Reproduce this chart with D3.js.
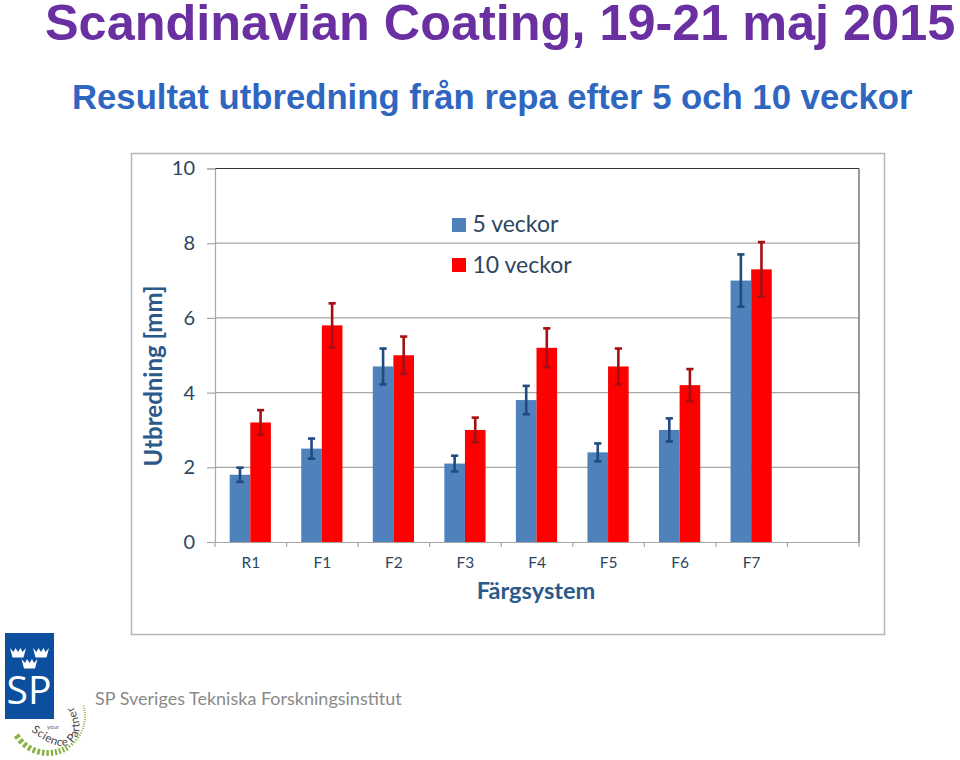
<!DOCTYPE html>
<html><head><meta charset="utf-8">
<script src="https://cdn.jsdelivr.net/npm/d3@7/dist/d3.min.js"></script>
<style>html,body{margin:0;background:#fff;}svg{display:block;}</style>
</head><body><svg id="c" width="960" height="760"></svg>
<script>
const categories = ["R1","F1","F2","F3","F4","F5","F6","F7",""];
const weeks5 = [1.8,2.5,4.7,2.1,3.8,2.4,3.0,7.0];
const weeks10 = [3.2,5.8,5.0,3.0,5.2,4.7,4.2,7.3];
const err5 = [0.19,0.27,0.48,0.21,0.38,0.24,0.31,0.70];
const err10 = [0.33,0.59,0.50,0.33,0.52,0.48,0.43,0.73];
const yTicks = [0,2,4,6,8,10];
const seriesNames = ["5 veckor","10 veckor"];
const title = "Scandinavian Coating, 19-21 maj 2015";
const subtitle = "Resultat utbredning från repa efter 5 och 10 veckor";

const BLUE="#4f81bd", RED="#ff0000", INK="#2c4660", AX="#a6a6a6";
const svg=d3.select("#c");
const AF="'Liberation Sans',Arial,sans-serif", CF="Lato,'Open Sans',sans-serif";
svg.append("text").attr("x",45).attr("y",39.5).attr("font-family",AF).attr("font-weight",700).attr("font-size",50.4).attr("fill","#6a2fa0").text(title);
svg.append("text").attr("x",72).attr("y",109).attr("font-family",AF).attr("font-weight",700).attr("font-size",34.7).attr("fill","#2f66bf").text(subtitle);
svg.append("rect").attr("x",131.5).attr("y",153.5).attr("width",753).attr("height",481).attr("fill","#fff").attr("stroke","#b5b5b5").attr("stroke-width",1.5);

const L=215,R=859,T=168.5,B=542;
const x=d3.scaleBand().domain(categories).range([L,R]);
const y=d3.scaleLinear().domain([0,10]).range([B,T]);
const barW=20.6;
const xc=i=>x(categories[i])+x.bandwidth()/2-0.5;

// gridlines
const g=svg.append("g");
g.selectAll("line.grid").data(yTicks.filter(d=>d>0&&d<10)).join("line")
 .attr("x1",L).attr("x2",R).attr("y1",d=>y(d)).attr("y2",d=>y(d)).attr("stroke",AX).attr("stroke-width",1.2);
g.append("line").attr("x1",L).attr("x2",R).attr("y1",y(10)).attr("y2",y(10)).attr("stroke","#333").attr("stroke-width",1.2);
g.append("line").attr("x1",R).attr("x2",R).attr("y1",y(10)).attr("y2",y(0)).attr("stroke","#555").attr("stroke-width",1.2);

// axes
const ya=svg.append("g").attr("transform",`translate(${L},0)`).call(d3.axisLeft(y).tickValues(yTicks).tickSize(8).tickPadding(12));
const xa=svg.append("g").attr("transform",`translate(0,${B})`).call(d3.axisBottom(x).tickSize(0).tickPadding(15));
[ya,xa].forEach(a=>{a.selectAll("path,line").attr("stroke",AX).attr("stroke-width",1.2);a.select(".domain").attr("stroke",AX);});
ya.selectAll("text").attr("font-family",CF).attr("font-size",20).attr("fill",INK);
xa.selectAll("text").attr("font-family",CF).attr("font-size",15.5).attr("fill",INK);
xa.selectAll("line.bt").data(d3.range(categories.length+1)).join("line").attr("class","bt")
 .attr("x1",i=>L+i*x.step()).attr("x2",i=>L+i*x.step()).attr("y1",0).attr("y2",5).attr("stroke",AX).attr("stroke-width",1.2);

// bars
function series(vals,errs,dx,fill,dark){
  const s=svg.append("g");
  s.selectAll("rect").data(vals).join("rect")
   .attr("x",(d,i)=>xc(i)+dx).attr("width",barW).attr("y",d=>y(d)).attr("height",d=>B-y(d)).attr("fill",fill);
  const ex=i=>xc(i)+dx+barW/2;
  s.selectAll("line.e").data(vals).join("line").attr("class","e")
   .attr("x1",(d,i)=>ex(i)).attr("x2",(d,i)=>ex(i)).attr("y1",(d,i)=>y(d+errs[i])).attr("y2",(d,i)=>y(d-errs[i]))
   .attr("stroke",dark).attr("stroke-width",2.6);
  [1,-1].forEach(sg=>{
    s.selectAll("line.c"+(sg>0?"u":"d")).data(vals).join("line").attr("class","c"+(sg>0?"u":"d"))
     .attr("x1",(d,i)=>ex(i)-3.6).attr("x2",(d,i)=>ex(i)+3.6).attr("y1",(d,i)=>y(d+sg*errs[i])).attr("y2",(d,i)=>y(d+sg*errs[i]))
     .attr("stroke",dark).attr("stroke-width",2.6);
  });
}
series(weeks5,err5,-barW,BLUE,"#1f4b7d");
series(weeks10,err10,0,RED,"#a50f14");

// legend
const lg=svg.append("g");
[BLUE,RED].forEach((c,i)=>{
  lg.append("rect").attr("x",452).attr("y",218+i*40).attr("width",14).attr("height",14).attr("fill",c);
  lg.append("text").attr("x",472.5).attr("y",232+i*41).attr("font-family",CF).attr("font-size",23).attr("fill",INK).text(seriesNames[i]);
});

// axis titles
svg.append("text").attr("transform","translate(162,376) rotate(-90)").attr("text-anchor","middle").attr("font-family",CF).attr("font-weight",700).attr("font-size",24).attr("fill","#2b5a8a").text("Utbredning [mm]");
svg.append("text").attr("x",536).attr("y",599).attr("text-anchor","middle").attr("font-family",CF).attr("font-weight",700).attr("font-size",23.6).attr("fill","#2b5a8a").text("Färgsystem");

// logo
const logo=svg.append("g");
logo.append("rect").attr("x",5).attr("y",633).attr("width",49).attr("height",86).attr("fill","#0b4f9e");
const crown=(cx,cy,s)=>logo.append("path").attr("transform",`translate(${cx},${cy}) scale(${s})`).attr("fill","#fff")
  .attr("d","M-8,-5 L-4.5,-1 L-2.5,-5 L0,-1 L2.5,-5 L4.5,-1 L8,-5 L5.5,4.5 L-5.5,4.5 Z");
crown(18,653,1);crown(41,653,1);crown(29.5,664,1);
logo.append("text").attr("x",29).attr("y",704).attr("text-anchor","middle").attr("font-family","'Open Sans',sans-serif").attr("font-weight",400).attr("font-size",39).attr("fill","#fff").text("SP");
const defs=svg.append("defs");
defs.append("path").attr("id","arc").attr("d","M31,731 C44,741 57,749 68,745 C80,741 86,722 68,699");
logo.append("text").attr("font-family",CF).attr("font-size",11.5).attr("letter-spacing",0.5).attr("fill","#444").append("textPath").attr("href","#arc").text("Science Partner");
logo.append("text").attr("x",47).attr("y",729).attr("font-family",CF).attr("font-size",6).attr("fill","#666").text("your");
const cx0=48,cy0=716,r0=37;
let ang=146;
while(ang>-18){
  const t=(146-ang)/164, a=ang*Math.PI/180, w=t<0.55?6:3.5-t*1.5;
  logo.append("line").attr("x1",cx0+(r0-w/2)*Math.cos(a)).attr("y1",cy0+(r0-w/2)*Math.sin(a)).attr("x2",cx0+(r0+w/2)*Math.cos(a)).attr("y2",cy0+(r0+w/2)*Math.sin(a))
   .attr("stroke","#86b341").attr("stroke-width",Math.max(0.9,3.6-t*3.6));
  ang-=Math.max(3.5,9-t*7);
}
svg.append("text").attr("x",95).attr("y",705).attr("font-family",CF).attr("font-size",18).attr("fill","#8a8a8a").text("SP Sveriges Tekniska Forskningsinstitut");
</script></body></html>
